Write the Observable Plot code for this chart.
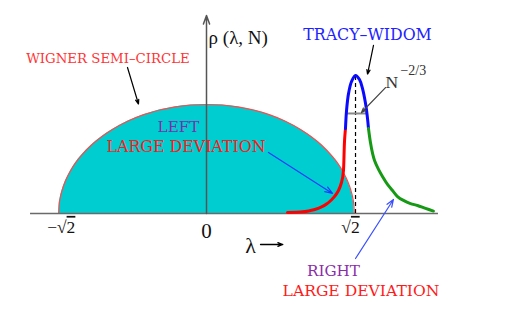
<!DOCTYPE html>
<html><head><meta charset="utf-8">
<script src="https://cdn.jsdelivr.net/npm/d3@7"></script>
<script src="https://cdn.jsdelivr.net/npm/@observablehq/plot@0.6"></script>
<style>html,body{margin:0;padding:0;background:#fff;overflow:hidden}</style>
</head><body><div id="chart"></div>
<script>
// Wigner semicircle (lambda, rho)
const semiX = [-1.414, -1.41, -1.4, -1.38, -1.35, -1.3, -1.25, -1.2, -1.1, -1.0, -0.9, -0.75, -0.6, -0.3, 0, 0.3, 0.6, 0.75, 0.9, 1.0, 1.1, 1.2, 1.25, 1.3, 1.35, 1.38, 1.4, 1.41, 1.414];
const semiY = [0, 0.035, 0.064, 0.098, 0.134, 0.177, 0.211, 0.238, 0.283, 0.318, 0.347, 0.382, 0.408, 0.440, 0.450, 0.440, 0.408, 0.382, 0.347, 0.318, 0.283, 0.238, 0.211, 0.177, 0.134, 0.098, 0.064, 0.035, 0];

// Left large deviation tail (red)
const redX = [0.775, 0.900, 0.995, 1.091, 1.167, 1.225, 1.263, 1.292, 1.311, 1.316, 1.321, 1.330];
const redY = [0.004, 0.006, 0.012, 0.025, 0.045, 0.070, 0.095, 0.128, 0.178, 0.239, 0.301, 0.351];
// Tracy-Widom peak (blue)
const blueX = [1.330, 1.340, 1.359, 1.388, 1.426, 1.464, 1.493, 1.522, 1.541, 1.550];
const blueY = [0.351, 0.425, 0.495, 0.545, 0.570, 0.553, 0.516, 0.454, 0.392, 0.351];
// Right large deviation tail (green)
const greenX = [1.550, 1.569, 1.589, 1.608, 1.646, 1.684, 1.732, 1.780, 1.828, 1.885, 1.952, 2.019, 2.096, 2.172];
const greenY = [0.351, 0.293, 0.248, 0.219, 0.182, 0.153, 0.120, 0.095, 0.070, 0.054, 0.041, 0.033, 0.021, 0.010];

// Texts
const txtWigner = "WIGNER SEMI–CIRCLE";
const txtRho = "ρ (λ, N)";
const txtTW = "TRACY–WIDOM";
const txtN = "N";
const txtExp = "−2/3";
const txtLeft = "LEFT";
const txtRight = "RIGHT";
const txtLD = "LARGE DEVIATION";
const tickLabels = ["−√2", "0", "√2"];
const tickPos = [-1.39, 0, 1.378];
const txtLambda = "λ";

const semi = semiX.map((x, i) => ({x, y: semiY[i]}));
const red = redX.map((x, i) => ({x, y: redY[i]}));
const blue = blueX.map((x, i) => ({x, y: blueY[i]}));
const green = greenX.map((x, i) => ({x, y: greenY[i]}));
const ticks = tickLabels.map((t, i) => ({t, x: tickPos[i]}));

const serif = "Liberation Serif, Times New Roman, serif";
const wide = "DejaVu Serif, serif";
const T = (s, o) => Plot.text([s], {text: d => d, fontFamily: serif, lineAnchor: "bottom", ...o});

const chart = Plot.plot({
  width: 513, height: 312, margin: 0,
  style: {background: "white", overflow: "visible"},
  x: {domain: [-206/104.5, 307/104.5], axis: null},
  y: {domain: [-99/242.2, 213/242.2], axis: null},
  marks: [
    Plot.areaY(semi, {x: "x", y: "y", fill: "#00cdd0", curve: "monotone-x"}),
    Plot.line(semi, {x: "x", y: "y", stroke: "#ff4a4a", strokeWidth: 1.2, curve: "monotone-x"}),
    Plot.ruleY([0], {x1: -1.684, x2: 2.22, stroke: "#6a6a6a", strokeWidth: 1.6}),
    Plot.arrow([0], {x1: 0, y1: 0, x2: 0, y2: 0.8175, stroke: "#555", strokeWidth: 1.5, headLength: 9, headAngle: 40}),
    Plot.ruleX([1.426], {y1: 0, y2: 0.565, stroke: "#000", strokeWidth: 1.2, strokeDasharray: "4,3"}),
    Plot.ruleY([0.413], {x1: 1.342, x2: 1.531, stroke: "#888", strokeWidth: 2}),
    Plot.line(red, {x: "x", y: "y", stroke: "#ff0000", strokeWidth: 3, curve: "monotone-y"}),
    Plot.line(blue, {x: "x", y: "y", stroke: "#0a0aff", strokeWidth: 3, curve: "catmull-rom"}),
    Plot.line(green, {x: "x", y: "y", stroke: "#169a16", strokeWidth: 3, curve: "catmull-rom"}),
    // arrows
    Plot.arrow([0], {x1: -0.756, y1: 0.603, x2: -0.651, y2: 0.452, stroke: "#000", strokeWidth: 1.2, headLength: 6, headAngle: 40}),
    Plot.arrow([0], {x1: 1.598, y1: 0.694, x2: 1.541, y2: 0.575, stroke: "#000", strokeWidth: 1.2, headLength: 6, headAngle: 40}),
    Plot.arrow([0], {x1: 1.713, y1: 0.520, x2: 1.483, y2: 0.417, stroke: "#444", strokeWidth: 1.2, headLength: 6, headAngle: 40}),
    Plot.arrow([0], {x1: 0.593, y1: 0.252, x2: 1.206, y2: 0.083, stroke: "#1a3cff", strokeWidth: 1.2, headLength: 10, headAngle: 40}),
    Plot.arrow([0], {x1: 1.426, y1: -0.186, x2: 1.789, y2: 0.058, stroke: "#3a50ff", strokeWidth: 1.2, headLength: 10, headAngle: 40}),
    Plot.arrow([0], {x1: 0.517, y1: -0.128, x2: 0.73, y2: -0.128, stroke: "#000", strokeWidth: 1.3, headLength: 6, headAngle: 40}),
    // texts
    T(txtWigner, {x: -0.943, y: 0.623, fill: "#ff3535", fontSize: 13.3, fontFamily: wide}),
    T(txtRho, {x: 0.02, y: 0.698, fill: "#111", fontSize: 19, textAnchor: "start"}),
    T(txtTW, {x: 1.541, y: 0.718, fill: "#2222ff", fontSize: 15.8, fontFamily: wide}),
    T(txtN, {x: 1.713, y: 0.520, fill: "#333", fontSize: 17.5, textAnchor: "start"}),
    T(txtExp, {x: 1.856, y: 0.570, fill: "#333", fontSize: 14, textAnchor: "start"}),
    T(txtLeft, {x: -0.268, y: 0.336, fill: "#7b30ac", fontSize: 15.2, fontFamily: wide}),
    T(txtLD, {x: -0.196, y: 0.252, fill: "#ff1a1a", fontSize: 15.8, fontFamily: wide}),
    T(txtRight, {x: 1.215, y: -0.260, fill: "#8a2ea8", fontSize: 15.2, fontFamily: wide}),
    T(txtLD, {x: 1.478, y: -0.339, fill: "#ff1a1a", fontSize: 15.6, fontFamily: wide}),
    Plot.text(ticks, {x: "x", y: -0.08, text: "t", fontFamily: serif, lineAnchor: "bottom", fontSize: 17.5, fill: "#111"}),
    T(txtLambda, {x: 0.421, y: -0.165, fill: "#111", fontSize: 22})
  ]
});

// enlarge the "0" tick label and add radical overbars
const ns = "http://www.w3.org/2000/svg";
chart.querySelectorAll("text").forEach(t => {
  const s = t.textContent;
  if (s === "0") { t.setAttribute("font-size", "21"); t.setAttribute("y", (+t.getAttribute("y") + 5) + ""); }
  if (s.endsWith("√2")) {
    t.textContent = s.slice(0, -1);
    const ts = document.createElementNS(ns, "tspan");
    ts.setAttribute("text-decoration", "overline");
    ts.textContent = "2";
    t.appendChild(ts);
  }
});
document.getElementById("chart").appendChild(chart);
</script></body></html>
